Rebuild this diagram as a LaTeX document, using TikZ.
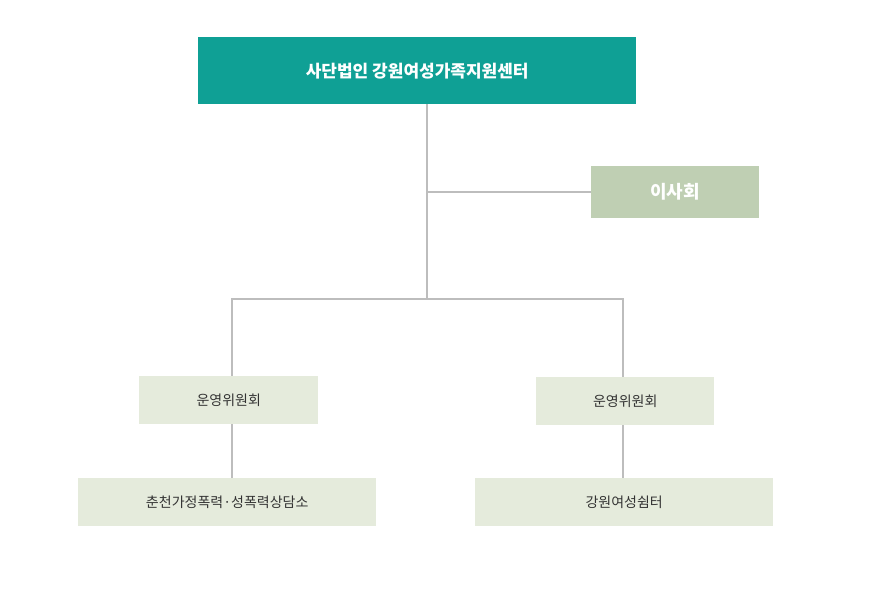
\documentclass[tikz,border=0pt]{standalone}
\usepackage{fontspec}
\setmainfont{Noto Sans CJK KR}
\definecolor{teal1}{HTML}{0FA095}
\definecolor{sage}{HTML}{BFCFB3}
\definecolor{pale}{HTML}{E5EBDC}
\definecolor{ln}{HTML}{BDBDBD}
\definecolor{txt}{HTML}{333333}
\begin{document}
\begin{tikzpicture}[x=1pt,y=-1pt,
  box/.style={draw=none,inner sep=0,anchor=north west},
  conn/.style={draw=ln,line width=1.6pt}]
\useasboundingbox[fill=white] (0,0) rectangle (870,600);
\draw[conn] (427,104) -- (427,299);
\draw[conn] (427,192) -- (591,192);
\draw[conn] (232,299) -- (623,299);
\draw[conn] (232,298) -- (232,376);
\draw[conn] (623,298) -- (623,377);
\draw[conn] (232,424) -- (232,478);
\draw[conn] (623,425) -- (623,478);
\node[box,fill=teal1,minimum width=438pt,minimum height=67pt] (top) at (198,37) {};
\node[text=white,font=\bfseries\fontsize{17}{20}\selectfont] at (top.center) {사단법인 강원여성가족지원센터};
\node[box,fill=sage,minimum width=168pt,minimum height=52pt] (bd) at (591,166) {};
\node[text=white,font=\bfseries\fontsize{18}{20}\selectfont] at (bd.center) {이사회};
\node[box,fill=pale,minimum width=179pt,minimum height=48pt] (c1) at (139,376) {};
\node[text=txt,font=\fontsize{14}{16}\selectfont] at (c1.center) {운영위원회};
\node[box,fill=pale,minimum width=178pt,minimum height=48pt] (c2) at (536,377) {};
\node[text=txt,font=\fontsize{14}{16}\selectfont] at (c2.center) {운영위원회};
\node[box,fill=pale,minimum width=298pt,minimum height=48pt] (b1) at (78,478) {};
\node[text=txt,font=\fontsize{14}{16}\selectfont] at (b1.center) {춘천가정폭력·성폭력상담소};
\node[box,fill=pale,minimum width=298pt,minimum height=48pt] (b2) at (475,478) {};
\node[text=txt,font=\fontsize{14}{16}\selectfont] at (b2.center) {강원여성쉼터};
\end{tikzpicture}
\end{document}
